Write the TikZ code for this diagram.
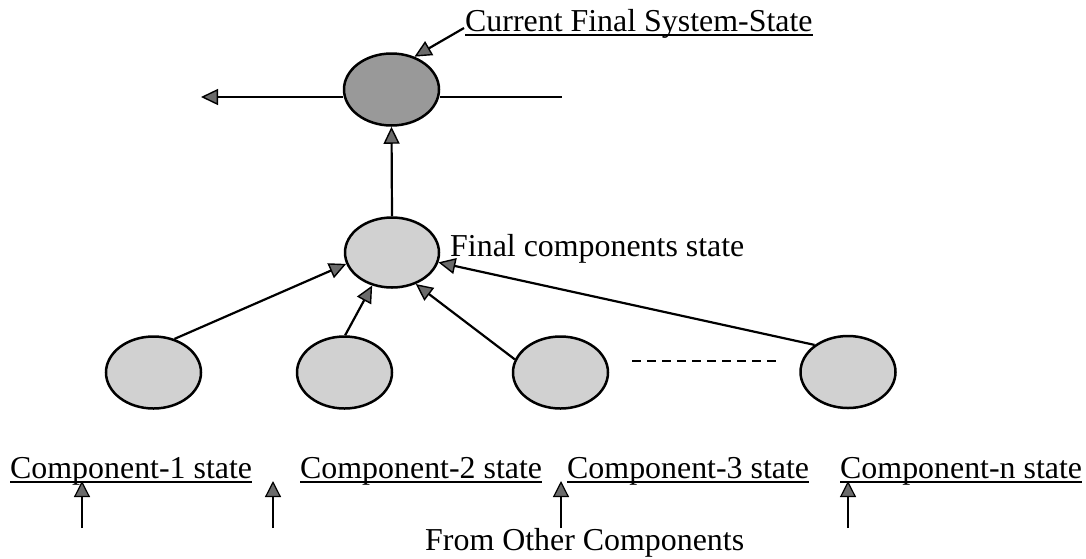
\documentclass[tikz,border=0pt]{standalone}
\usepackage{fontspec}
\setmainfont{Liberation Serif}
\usetikzlibrary{arrows.meta,shapes.geometric}
\definecolor{darkfill}{gray}{0.6}
\definecolor{lightfill}{gray}{0.82}
\definecolor{headgray}{gray}{0.42}
\begin{document}
\begin{tikzpicture}[x=1pt,y=-1pt,
  state/.style={ellipse,draw=black,line width=2.5pt,fill=#1,
    minimum width=95pt,minimum height=72pt,inner sep=0pt},
  lbl/.style={anchor=base west,inner sep=0pt,
    font=\fontsize{31.9pt}{38pt}\selectfont},
  link/.style={line width=2.2pt,
    -{Triangle[length=17pt,width=16pt,fill=headgray,line width=1.4pt]}},
  feed/.style={line width=1.4pt,
    -{Triangle[length=16pt,width=16pt,fill=headgray,line width=1.2pt]}},
  uline/.style={line width=1.6pt},
]
\useasboundingbox (0,0) rectangle (1086,558);

% state nodes
\node[state=darkfill] (top) at (391.5,89.5) {};
\node[state=lightfill,minimum width=94pt,minimum height=70pt] (mid) at (392,252.5) {};
\node[state=lightfill] (e1) at (153.5,372.5) {};
\node[state=lightfill] (e2) at (344.5,372.5) {};
\node[state=lightfill] (e3) at (560.5,372.5) {};
\node[state=lightfill] (e4) at (848,372) {};

% labels
\node[lbl] (cur) at (465,31) {Current Final System-State};
\node[lbl] (fin) at (450,256) {Final components state};
\node[lbl] (l1) at (10,478) {Component-1 state};
\node[lbl] (l2) at (300,478) {Component-2 state};
\node[lbl] (l3) at (567,478) {Component-3 state};
\node[lbl] (ln) at (840,478) {Component-n state};
\node[lbl] (oth) at (425,550) {From Other Components};

% underlines
\foreach \n in {cur,l1,l2,l3,ln}
  \draw[uline] ([yshift=-4pt]\n.base west) -- ([yshift=-4pt]\n.base east);

% outputs of the system state
\coordinate (outL) at (201,97);
\coordinate (outR) at (562,97);
\draw[link] (outL -| top.west) -- (outL);
\draw[line width=2.2pt] (outR -| top.east) -- (outR);
\draw[link] ([xshift=-1pt,yshift=3pt]cur.base west) -- (top.55);

% aggregation
\draw[link] (mid.north) -- (top.south);
\draw[link] (e1.58) -- (mid.194);
\draw[link] (e2.89) -- (mid.239);
\draw[link] (e3.164) -- (mid.307);
\draw[link] (e4.141) -- (mid.348);

% elided components
\coordinate (dashA) at (632,361);
\coordinate (dashB) at (777,361);
\draw[line width=2.2pt,dash pattern=on 9pt off 6pt] (dashA) -- (dashB);

% inputs from other components
\foreach \i/\x in {1/82,2/273,3/561,4/848}{
  \coordinate (f\i b) at (\x,528);
  \coordinate (f\i t) at (\x,481);
  \draw[feed] (f\i b) -- (f\i t);
}
\end{tikzpicture}
\end{document}
